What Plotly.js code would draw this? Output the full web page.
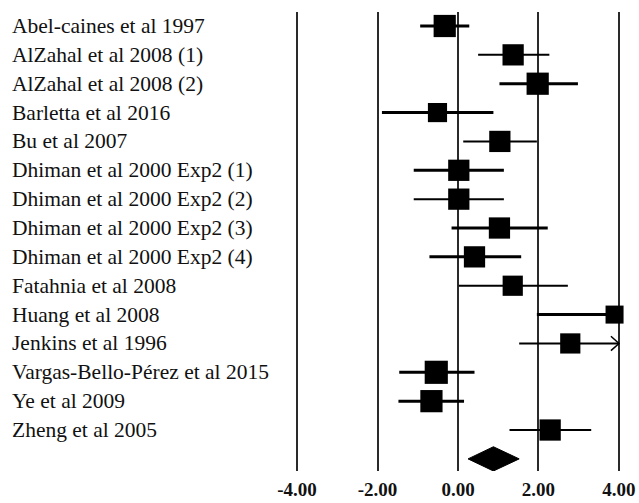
<!DOCTYPE html>
<html>
<head>
<meta charset="utf-8">
<script src="https://cdn.plot.ly/plotly-3.0.1.min.js"></script>
<style>html,body{margin:0;padding:0;background:#fff;}#chart{width:639px;height:503px;}</style>
</head>
<body>
<div id="chart"></div>
<script>
// ---- data ----
const studies = [
  "Abel-caines et al 1997",
  "AlZahal et al 2008 (1)",
  "AlZahal et al 2008 (2)",
  "Barletta et al 2016",
  "Bu et al 2007",
  "Dhiman et al 2000 Exp2 (1)",
  "Dhiman et al 2000 Exp2 (2)",
  "Dhiman et al 2000 Exp2 (3)",
  "Dhiman et al 2000 Exp2 (4)",
  "Fatahnia et al 2008",
  "Huang et al 2008",
  "Jenkins et al 1996",
  "Vargas-Bello-Pérez et al 2015",
  "Ye et al 2009",
  "Zheng et al 2005"
];
const effect   = [-0.33, 1.37, 1.98, -0.51, 1.04, 0.02, 0.02, 1.03, 0.41, 1.36, 3.89, 2.79, -0.54, -0.66, 2.29];
const ciLower  = [-0.94, 0.50, 1.03, -1.89, 0.13, -1.10, -1.10, -0.16, -0.71, 0.02, 1.96, 1.52, -1.46, -1.48, 1.28];
const ciUpper  = [0.28, 2.27, 2.98, 0.88, 1.96, 1.14, 1.14, 2.23, 1.57, 2.73, 4.60, 4.60, 0.41, 0.15, 3.31];
const weights  = [7.0, 6.4, 7.0, 5.2, 6.4, 6.4, 6.4, 6.4, 6.4, 5.8, 4.6, 5.8, 7.6, 7.0, 6.4];
const pooledEffect = 0.88;
const pooledLower  = 0.25;
const pooledUpper  = 1.52;
const tickValues = [-4, -2, 0, 2, 4];
const tickLabels = ["-4.00", "-2.00", "0.00", "2.00", "4.00"];

// ---- style ----
const ciWidth = [3, 2, 3, 3, 2, 3, 2, 3, 3, 2, 3, 2, 3, 3, 2];
const axisMax = 4, axisMin = -4;
const serif = "Liberation Serif, Times New Roman, serif";

const rows = studies.map((s, i) => i + 1);
const traces = [];

// confidence interval lines
studies.forEach((s, i) => {
  traces.push({
    type: "scatter", mode: "lines",
    x: [Math.max(ciLower[i], axisMin), Math.min(ciUpper[i], axisMax)],
    y: [rows[i], rows[i]],
    line: {color: "#000", width: ciWidth[i]},
    hoverinfo: "skip", showlegend: false
  });
});

// arrow for CIs that run past the axis (only where the square is not at the edge)
studies.forEach((s, i) => {
  if (ciUpper[i] > axisMax && effect[i] < axisMax - 0.5) {
    traces.push({
      type: "scatter", mode: "lines",
      x: [axisMax - 0.2, axisMax, axisMax - 0.2],
      y: [rows[i] - 0.25, rows[i], rows[i] + 0.25],
      line: {color: "#000", width: 1.5},
      hoverinfo: "skip", showlegend: false
    });
  }
});

// effect squares
traces.push({
  type: "scatter", mode: "markers",
  x: effect, y: rows,
  marker: {symbol: "square", color: "#000", opacity: 1,
           size: weights.map(w => 8.4 * Math.sqrt(w)), line: {width: 0}},
  cliponaxis: false,
  hoverinfo: "x+y", showlegend: false
});

// pooled diamond
const dRow = studies.length + 1;
traces.push({
  type: "scatter", mode: "lines",
  x: [pooledLower, pooledEffect, pooledUpper, pooledEffect, pooledLower],
  y: [dRow, dRow - 0.42, dRow, dRow + 0.42, dRow],
  fill: "toself", fillcolor: "#000",
  line: {color: "#000", width: 1},
  hoverinfo: "skip", showlegend: false
});

const plotLeft = 293, plotWidth = 639 - 293 - 16;
const annotations = studies.map((s, i) => ({
  text: s, xref: "paper", yref: "y",
  x: (10 - plotLeft) / plotWidth, y: rows[i],
  xanchor: "left", yanchor: "middle", showarrow: false,
  font: {family: serif, size: 21.5, color: "#111"}
}));

const layout = {
  width: 639, height: 503,
  margin: {l: plotLeft, r: 16, t: 12, b: 32},
  paper_bgcolor: "#fff", plot_bgcolor: "#fff",
  showlegend: false,
  xaxis: {
    range: [-4.1, 4.1], tickvals: tickValues, ticktext: tickLabels,
    showgrid: true, gridcolor: "#2a2a2a", gridwidth: 2,
    zeroline: true, zerolinecolor: "#2a2a2a", zerolinewidth: 2,
    showline: false, ticks: "", ticklabelstandoff: 5,
    tickfont: {family: serif, size: 19, color: "#111", weight: "bold"},
    fixedrange: true
  },
  yaxis: {
    range: [16.42, 0.515], showgrid: false, zeroline: false,
    showticklabels: false, ticks: "", showline: false, fixedrange: true
  },
  annotations: annotations
};

Plotly.newPlot("chart", traces, layout, {displayModeBar: false, staticPlot: true});
</script>
</body>
</html>
